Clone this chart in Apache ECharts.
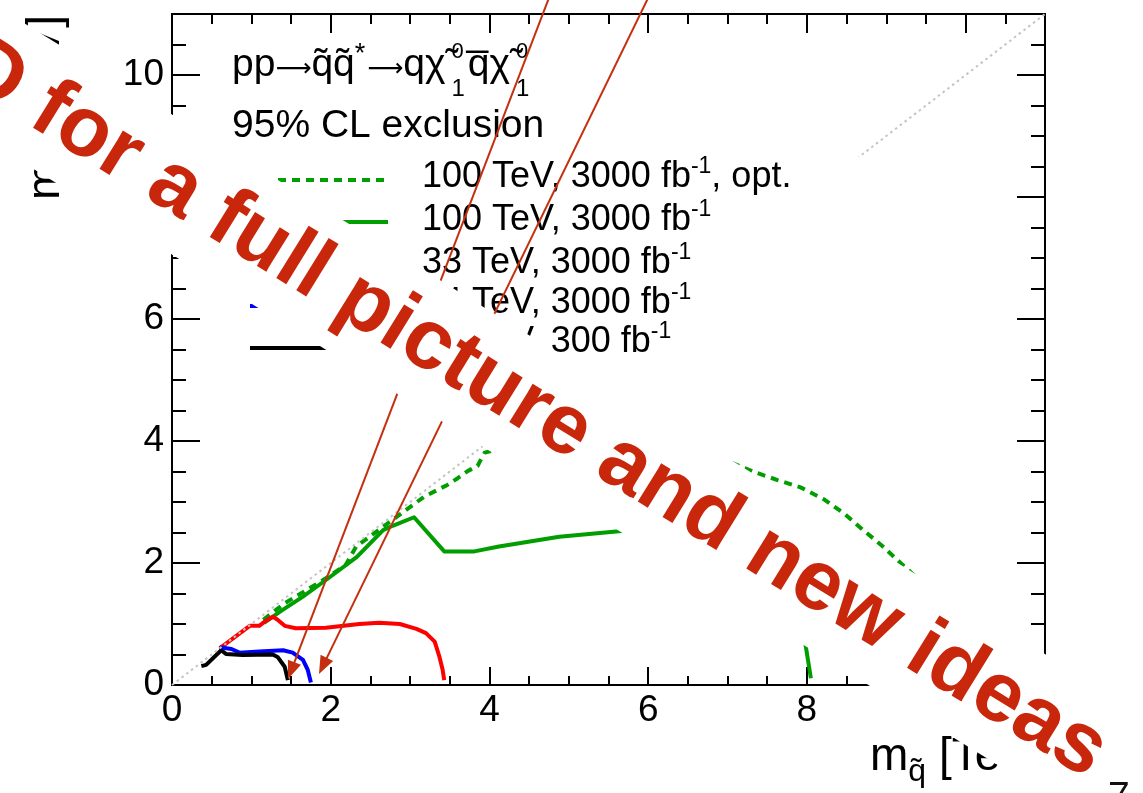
<!DOCTYPE html>
<html>
<head>
<meta charset="utf-8">
<script src="https://cdn.jsdelivr.net/npm/echarts@6/dist/echarts.min.js"></script>
<style>
  html, body { margin: 0; padding: 0; background: #ffffff; }
  #chart { width: 1143px; height: 793px; }
</style>
</head>
<body>
<div id="chart"></div>
<script>
// Squark pair production, 95% CL exclusion contours in the
// (squark mass, neutralino mass) plane, both in TeV.

// ---- axis ranges ----
const X_MAX = 11, Y_MAX = 11, MAJOR_STEP = 2, MINOR_STEP = 0.5;

// ---- contours: squark mass (x) / neutralino mass (y) ----
const opt100X = [1.15, 1.42, 1.94, 2.19, 2.32, 2.95, 3.18, 3.47, 3.60, 3.73, 3.85, 3.89, 3.94, 4.50, 5.50, 6.50, 7.02, 7.34, 7.63, 7.92, 8.22, 8.47, 8.70, 8.95, 9.18, 9.39, 9.50, 9.60, 9.65];
const opt100Y = [1.07, 1.34, 1.75, 1.97, 2.27, 2.87, 3.09, 3.28, 3.39, 3.51, 3.59, 3.69, 3.81, 4.00, 4.00, 3.80, 3.66, 3.49, 3.36, 3.24, 3.04, 2.81, 2.55, 2.28, 2.00, 1.75, 1.40, 0.80, 0.10];

const std100X = [1.16, 1.38, 1.65, 1.97, 2.33, 2.66, 2.78, 3.05, 3.43, 3.81, 4.12, 4.88, 5.63, 6.20, 6.80, 7.30, 7.70, 7.90, 7.99, 8.05];
const std100Y = [1.02, 1.22, 1.45, 1.75, 2.10, 2.54, 2.61, 2.75, 2.19, 2.19, 2.27, 2.43, 2.52, 2.58, 2.62, 2.45, 2.10, 1.30, 0.60, 0.11];

const hl33X = [0.60, 0.98, 1.10, 1.18, 1.27, 1.33, 1.42, 1.56, 1.94, 2.36, 2.61, 2.87, 3.08, 3.20, 3.31, 3.37, 3.41, 3.43];
const hl33Y = [0.60, 0.97, 0.97, 1.05, 1.12, 1.07, 0.97, 0.93, 0.94, 1.00, 1.02, 1.00, 0.92, 0.85, 0.71, 0.46, 0.25, 0.08];

const hl14X = [0.60, 0.75, 0.85, 1.10, 1.40, 1.52, 1.65, 1.71, 1.75];
const hl14Y = [0.62, 0.59, 0.53, 0.55, 0.57, 0.53, 0.41, 0.25, 0.04];

const lhc14X = [0.37, 0.43, 0.62, 0.68, 0.89, 1.27, 1.33, 1.42, 1.46];
const lhc14Y = [0.31, 0.33, 0.57, 0.51, 0.49, 0.50, 0.46, 0.30, 0.08];

// mass-degenerate line m(neutralino) = m(squark)
const diagX = [0, 11];
const diagY = [0, 11];

// ---- legend entries: [text, superscript, trailing text] ----
const legendText = [
  ['100 TeV, 3000 fb', '-1', ', opt.'],
  ['100 TeV, 3000 fb', '-1', ''],
  ['33 TeV, 3000 fb', '-1', ''],
  ['14 TeV, 3000 fb', '-1', ''],
  ['14 TeV, 300 fb', '-1', '']
];

const GREEN = '#009e00', RED = '#ff0000', BLUE = '#0000ff', BLACK = '#000000';
const FONT = '"Liberation Sans", Arial, Helvetica, sans-serif';
const ARROW_FONT = '"DejaVu Sans", sans-serif';

const zip = (xs, ys) => xs.map((x, i) => [x, ys[i]]);

// text measuring for hand-set sub/superscripts
const mctx = document.createElement('canvas').getContext('2d');
function tw(str, size, weight, family) {
  mctx.font = (weight || 'normal') + ' ' + size + 'px ' + (family || FONT);
  return mctx.measureText(str).width;
}
const MID = 0.3465; // distance of the canvas 'middle' baseline above the alphabetic one, in em

// pieces: [text, fontSize, baselineShift, advance?, family, extraGapBefore]
function run(pieces, z, fill) {
  let x = 0;
  const out = [];
  pieces.forEach(p => {
    const [t, s, dy, adv, fam, gap] = p;
    x += gap || 0;
    out.push({
      type: 'text', x: x, y: dy - MID * s, z: z, silent: true,
      style: { text: t, font: s + 'px ' + (fam || FONT), fill: fill || '#000', align: 'left', verticalAlign: 'middle' }
    });
    if (adv !== false) x += tw(t, s, 'normal', fam);
    else x -= gap || 0;
  });
  return out;
}

const chart = echarts.init(document.getElementById('chart'), null, { renderer: 'canvas' });

function xAxisDef(pos, step, tickLen, labels) {
  return {
    type: 'value', position: pos, min: 0, max: X_MAX, interval: step,
    axisLine: { show: true, onZero: false, lineStyle: { color: '#000', width: 2 } },
    axisTick: { show: true, inside: true, length: tickLen, lineStyle: { color: '#000', width: 2 } },
    axisLabel: {
      show: labels, margin: 7, color: '#000', fontSize: 37, fontFamily: FONT,
      formatter: v => (v % MAJOR_STEP === 0 && v < X_MAX ? String(v) : '')
    },
    splitLine: { show: false }
  };
}
function yAxisDef(pos, step, tickLen, labels) {
  return {
    type: 'value', position: pos, min: 0, max: Y_MAX, interval: step,
    axisLine: { show: true, onZero: false, lineStyle: { color: '#000', width: 2 } },
    axisTick: { show: true, inside: true, length: tickLen, lineStyle: { color: '#000', width: 2 } },
    axisLabel: {
      show: labels, margin: 8, color: '#000', fontSize: 37, fontFamily: FONT,
      formatter: v => (v % MAJOR_STEP === 0 && v < Y_MAX ? String(v) : '')
    },
    splitLine: { show: false }
  };
}

function curve(name, xs, ys, color, dashed, z) {
  return {
    name: name, type: 'line', xAxisIndex: 0, yAxisIndex: 0,
    data: zip(xs, ys), showSymbol: false, symbol: 'none', smooth: false,
    clip: true, z: z || 2, silent: true,
    lineStyle: { color: color, width: 4, type: dashed ? [8, 6] : 'solid', cap: 'butt', join: 'round' }
  };
}

// ---- hand-placed decorations ----
const graphics = [];

// legend panel
graphics.push({ type: 'rect', z: 10, silent: true, shape: { x: 240, y: 157, width: 620, height: 223 }, style: { fill: '#fff' } });

const legendRows = [190, 233, 276, 316, 355];
const legendLineY = [180, 222, 265, 306, 348];
const legendStyles = [[GREEN, true], [GREEN, false], [RED, false], [BLUE, false], [BLACK, false]];
legendText.forEach((t, i) => {
  const [col, dashed] = legendStyles[i];
  graphics.push({
    type: 'line', z: 11, silent: true,
    shape: { x1: 250, y1: legendLineY[i], x2: 388, y2: legendLineY[i] },
    style: { stroke: col, lineWidth: 4, lineDash: dashed ? [8, 6] : null }
  });
  graphics.push({
    type: 'group', x: 422, y: legendRows[i], z: 11,
    children: run([[t[0], 36, 0], [t[1], 23, -15], [t[2], 36, 0]], 11)
  });
});

// process and CL lines
const ARROW_SIZE = 36 / tw('\u27F6', 1, 'normal', ARROW_FONT);
graphics.push({
  type: 'group', x: 232, y: 79, z: 11,
  children: run([
    ['pp', 39, 0], ['\u27F6', ARROW_SIZE, -1, true, ARROW_FONT], ['q\u0303q\u0303', 39, 0], ['*', 27, -15],
    ['\u27F6', ARROW_SIZE, -1, true, ARROW_FONT, 2], ['q\u03C7\u0303', 39, 0],
    ['0', 22, -19, false, null, 6], ['1', 24, 19, true, null, 6],
    ['q\u0305\u03C7\u0303', 39, 0, true, null, 3],
    ['0', 22, -19, false, null, 6], ['1', 24, 19, true, null, 6]
  ], 11)
});
graphics.push({ type: 'group', x: 232, y: 140, z: 11, children: run([['95% CL exclusion', 39, 0]], 11) });

// axis titles
graphics.push({
  type: 'group', x: 62, y: 200, rotation: Math.PI / 2, z: 11,
  children: run([['m', 46, 0], ['\u03C7\u0303', 32, 10], ['0', 22, -2, false], ['1', 22, 18], [' [TeV]', 46, 0]], 11)
});
graphics.push({
  type: 'group', x: 870, y: 773, z: 11,
  children: run([['m', 46, 0], ['q\u0303', 32, 10], [' [TeV]', 46, 0]], 11)
});
graphics.push({ type: 'text', x: 1108, y: 779, z: 11, silent: true, style: { text: '7', font: '39px ' + FONT, fill: '#111', align: 'left', verticalAlign: 'top' } });

// pointer arrows
const ARROW = '#c4300f';
[[552, -10, 288, 679], [652, -10, 319, 674]].forEach(a => {
  const [x1, y1, x2, y2] = a;
  const L = Math.hypot(x2 - x1, y2 - y1), ux = (x2 - x1) / L, uy = (y2 - y1) / L;
  const hl = 18, hw = 7;
  const bx = x2 - ux * hl, by = y2 - uy * hl;
  graphics.push({ type: 'line', z: 50, silent: true, shape: { x1: x1, y1: y1, x2: bx + ux * 4, y2: by + uy * 4 }, style: { stroke: ARROW, lineWidth: 2 } });
  graphics.push({ type: 'polygon', z: 50, silent: true, shape: { points: [[x2, y2], [bx - uy * hw, by + ux * hw], [bx + uy * hw, by - ux * hw]] }, style: { fill: ARROW } });
});

// banner across the plot, on its own white strip
const BANNER_PRE = 'View it in 3D ';
const BANNER_MAIN = 'for a full picture and new ideas';
const BANNER_SIZE = 85;
const bannerLen = tw(BANNER_MAIN, BANNER_SIZE, 'bold');
graphics.push({
  type: 'group', x: 23, y: 128.6, rotation: -Math.atan(0.618), z: 99,
  children: [
    { type: 'rect', z: 99, silent: true, shape: { x: -700, y: -90.2, width: 700 + bannerLen + 8, height: 119.1 }, style: { fill: '#ffffff' } },
    {
      type: 'text', z: 100, silent: true,
      style: {
        text: BANNER_PRE + BANNER_MAIN, x: -tw(BANNER_PRE, BANNER_SIZE, 'bold'), y: -MID * BANNER_SIZE,
        font: 'bold ' + BANNER_SIZE + 'px ' + FONT, fill: '#c8270c',
        align: 'left', verticalAlign: 'middle'
      }
    }
  ]
});

chart.setOption({
  animation: false,
  backgroundColor: '#ffffff',
  grid: { left: 172, top: 14, width: 873, height: 671, containLabel: false, outerBoundsMode: 'none' },
  xAxis: [
    xAxisDef('bottom', MAJOR_STEP, 18, true),
    xAxisDef('bottom', MINOR_STEP, 9, false),
    xAxisDef('top', MAJOR_STEP, 19, false),
    xAxisDef('top', MINOR_STEP, 10, false)
  ],
  yAxis: [
    yAxisDef('left', MAJOR_STEP, 28, true),
    yAxisDef('left', MINOR_STEP, 14, false),
    yAxisDef('right', MAJOR_STEP, 28, false),
    yAxisDef('right', MINOR_STEP, 14, false)
  ],
  series: [
    curve('100 TeV, 3000 fb-1, opt.', opt100X, opt100Y, GREEN, true),
    curve('100 TeV, 3000 fb-1', std100X, std100Y, GREEN, false),
    curve('33 TeV, 3000 fb-1', hl33X, hl33Y, RED, false),
    curve('14 TeV, 3000 fb-1', hl14X, hl14Y, BLUE, false),
    curve('14 TeV, 300 fb-1', lhc14X, lhc14Y, BLACK, false),
    {
      name: 'diagonal', type: 'line', data: zip(diagX, diagY), showSymbol: false, symbol: 'none',
      z: 3, silent: true, lineStyle: { color: '#c4c4c4', width: 2, type: [2.5, 3.5] }
    }
  ],
  graphic: { elements: graphics }
});
</script>
</body>
</html>
